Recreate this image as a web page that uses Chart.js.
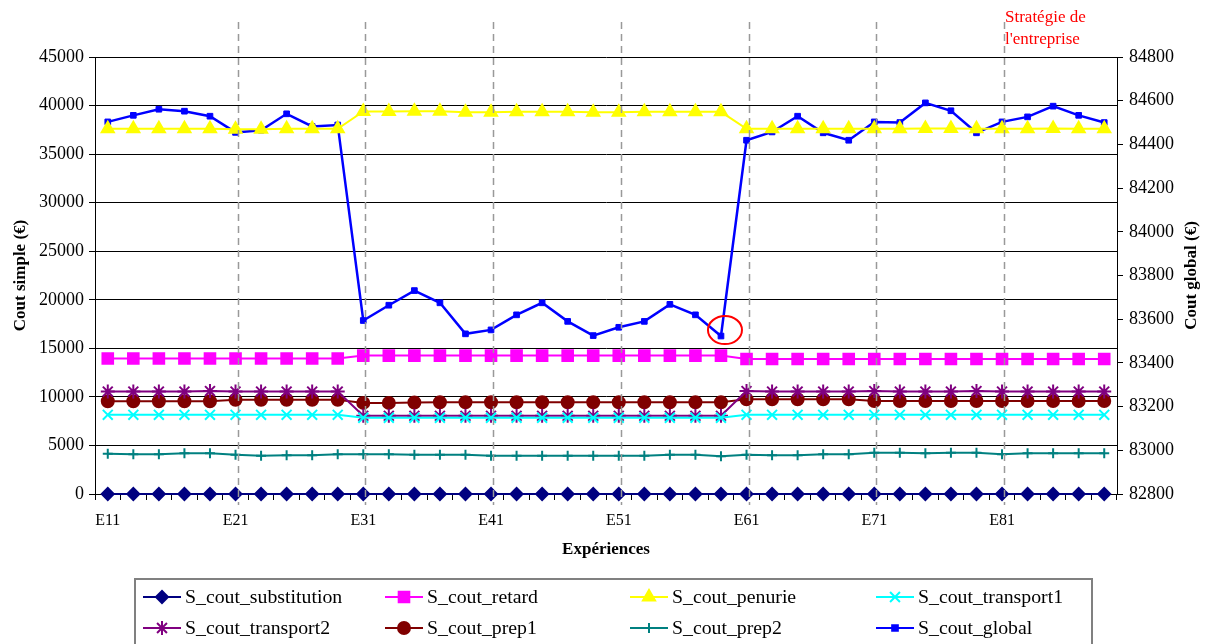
<!DOCTYPE html>
<html>
<head>
<meta charset="utf-8">
<script src="https://cdn.jsdelivr.net/npm/chart.js@4"></script>
<style>
  body { margin: 0; background: #fff; }
  canvas { display: block; }
</style>
</head>
<body>
<canvas id="chart" width="1205" height="644"></canvas>
<script>
const categories = [
  "E11","E12","E13","E14","E15","E21","E22","E23","E24","E25",
  "E31","E32","E33","E34","E35","E41","E42","E43","E44","E45",
  "E51","E52","E53","E54","E55","E61","E62","E63","E64","E65",
  "E71","E72","E73","E74","E75","E81","E82","E83","E84","E85"
];

const sSubstitution = [0,0,0,0,0,0,0,0,0,0, 0,0,0,0,0,0,0,0,0,0, 0,0,0,0,0,0,0,0,0,0, 0,0,0,0,0,0,0,0,0,0];
const sRetard = [13950,13950,13950,13950,13950,13950,13950,13950,13950,13950,
  14250,14250,14250,14250,14250,14250,14250,14250,14250,14250,
  14250,14250,14250,14250,14250,13900,13900,13900,13900,13900,
  13900,13900,13900,13900,13900,13900,13900,13900,13900,13900];
const sPenurie = [37600,37600,37600,37600,37600,37550,37550,37600,37600,37600,
  39400,39400,39420,39420,39300,39300,39350,39350,39350,39300,
  39300,39350,39350,39350,39350,37600,37600,37600,37600,37600,
  37600,37600,37650,37650,37600,37600,37600,37650,37600,37600];
const sTransport1 = [8150,8150,8150,8150,8150,8150,8150,8150,8150,8150,
  7850,7850,7850,7850,7850,7850,7850,7850,7850,7850,
  7850,7850,7850,7850,7850,8150,8150,8150,8150,8150,
  8150,8150,8150,8150,8150,8150,8150,8150,8150,8150];
const sTransport2 = [10550,10550,10550,10550,10600,10550,10550,10550,10550,10550,
  8050,8050,8050,8050,8050,8050,8050,8050,8050,8050,
  8050,8050,8050,8050,8050,10600,10550,10550,10550,10550,
  10600,10550,10550,10550,10600,10550,10550,10550,10550,10550];
const sPrep1 = [9550,9550,9550,9550,9550,9700,9700,9700,9700,9700,
  9380,9380,9420,9450,9450,9450,9450,9450,9450,9450,
  9450,9450,9450,9450,9450,9750,9750,9750,9750,9750,
  9580,9580,9580,9580,9580,9580,9580,9580,9580,9580];
const sPrep2 = [4150,4100,4100,4200,4200,4050,3950,4000,4000,4100,
  4100,4100,4050,4050,4050,3950,3950,3950,3950,3950,
  3950,3950,4050,4050,3900,4050,4000,4000,4100,4100,
  4250,4250,4200,4250,4250,4100,4200,4200,4200,4200];
const sGlobal = [84503,84533,84561,84552,84529,84455,84465,84540,84482,84489,
  83594,83664,83731,83675,83533,83551,83620,83675,83590,83525,
  83563,83590,83668,83620,83523,84419,84457,84529,84453,84419,
  84503,84500,84590,84554,84453,84503,84526,84575,84533,84500];

const leftTicks = { min: 0, max: 45000, step: 5000 };
const rightTicks = { min: 82800, max: 84800, step: 200 };

const groupStarts = [5, 10, 15, 20, 25, 30, 35];
const circledPoint = 24;

const serif = "'Liberation Serif', 'Times New Roman', serif";

function line(label, data, color, style, radius, axis) {
  return {
    label: label,
    data: data,
    yAxisID: axis || "y",
    borderColor: color,
    backgroundColor: color,
    pointBackgroundColor: color,
    pointBorderColor: color,
    pointStyle: style,
    pointRadius: radius,
    pointBorderWidth: 2,
    borderWidth: 2,
    tension: 0,
    clip: false
  };
}

const datasets = [
  line("S_cout_substitution", sSubstitution, "#000080", "rectRot", 6),
  line("S_cout_retard", sRetard, "#ff00ff", "rect", 7.5),
  line("S_cout_penurie", sPenurie, "#ffff00", "triangle", 7),
  line("S_cout_transport1", sTransport1, "#00ffff", "crossRot", 7),
  line("S_cout_transport2", sTransport2, "#800080", "star", 7),
  line("S_cout_prep1", sPrep1, "#800000", "circle", 6),
  line("S_cout_prep2", sPrep2, "#008080", "cross", 5),
  line("S_cout_global", sGlobal, "#0000ff", "rect", 4, "y1")
];
datasets[7].borderWidth = 2.5;
datasets[7].pointBorderWidth = 1;

// Annotationen, Achsentitel und Legende
const extras = {
  id: "extras",
  afterDatasetsDraw(chart) {
    const ctx = chart.ctx;
    const x = chart.scales.x;

    ctx.save();
    ctx.strokeStyle = "#999999";
    ctx.lineWidth = 1.5;
    ctx.setLineDash([7, 5]);
    groupStarts.forEach(i => {
      const px = Math.round(x.getPixelForValue(i)) + 2.5;
      ctx.beginPath();
      ctx.moveTo(px, 22);
      ctx.lineTo(px, 505);
      ctx.stroke();
    });
    ctx.restore();

    // roter Kreis
    const cx = x.getPixelForValue(circledPoint);
    const cy = chart.scales.y1.getPixelForValue(sGlobal[circledPoint]);
    ctx.save();
    ctx.strokeStyle = "#ff0000";
    ctx.lineWidth = 2;
    ctx.beginPath();
    ctx.ellipse(cx + 4, cy - 6, 17, 14, 0, 0, Math.PI * 2);
    ctx.stroke();
    ctx.restore();
  },
  afterDraw(chart) {
    const ctx = chart.ctx;
    const area = chart.chartArea;
    const midY = (area.top + area.bottom) / 2;

    ctx.save();
    ctx.fillStyle = "#000";
    ctx.font = "bold 17px " + serif;
    ctx.textAlign = "center";
    ctx.textBaseline = "middle";

    ctx.save();
    ctx.translate(21, midY);
    ctx.rotate(-Math.PI / 2);
    ctx.fillText("Cout simple (€)", 0, 0);
    ctx.restore();

    ctx.save();
    ctx.translate(1192, midY);
    ctx.rotate(-Math.PI / 2);
    ctx.fillText("Cout global (€)", 0, 0);
    ctx.restore();

    ctx.fillText("Expériences", (area.left + area.right) / 2, 550);

    // Strategie-Text
    ctx.fillStyle = "#ff0000";
    ctx.font = "17px " + serif;
    ctx.textAlign = "left";
    ctx.fillText("Stratégie de", 1005, 18);
    ctx.fillText("l'entreprise", 1005, 40);

    // Legende
    ctx.strokeStyle = "#808080";
    ctx.lineWidth = 2;
    ctx.strokeRect(135, 579, 957, 70);

    const colX = [143, 385, 630, 876];
    const rowY = [597, 628];
    ctx.font = "19.8px " + serif;
    chart.data.datasets.forEach((ds, i) => {
      const lx = colX[i % 4];
      const ly = rowY[Math.floor(i / 4)];
      ctx.strokeStyle = ds.borderColor;
      ctx.lineWidth = 2;
      ctx.beginPath();
      ctx.moveTo(lx, ly);
      ctx.lineTo(lx + 38, ly);
      ctx.stroke();
      ctx.fillStyle = ds.pointBackgroundColor;
      Chart.helpers.drawPoint(ctx, {
        pointStyle: ds.pointStyle,
        radius: ds.pointRadius,
        borderWidth: ds.pointBorderWidth,
        rotation: 0
      }, lx + 19, ly);
      ctx.fillStyle = "#000";
      ctx.fillText(ds.label, lx + 42, ly + 1);
    });
    ctx.restore();
  }
};

new Chart(document.getElementById("chart"), {
  type: "line",
  data: { labels: categories, datasets: datasets },
  plugins: [extras],
  options: {
    responsive: false,
    animation: false,
    layout: { padding: { top: 57, left: 0, right: 0, bottom: 0 } },
    plugins: {
      legend: { display: false },
      tooltip: { enabled: false }
    },
    scales: {
      x: {
        offset: true,
        afterFit: s => { s.height = 150; },
        grid: { offset: true, drawOnChartArea: false, color: "#000", tickLength: 6 },
        border: { display: true, color: "#000", width: 1 },
        ticks: {
          autoSkip: false,
          maxRotation: 0,
          padding: 11,
          color: "#000",
          font: { family: serif, size: 16 },
          callback: (v, i) => (i % 5 === 0 ? categories[i] : "")
        }
      },
      y: {
        position: "left",
        min: leftTicks.min,
        max: leftTicks.max,
        afterFit: s => { s.width = 95; },
        grid: { color: "#000", tickLength: 6 },
        border: { display: true, color: "#000", width: 1 },
        ticks: {
          stepSize: leftTicks.step,
          padding: 5,
          color: "#000",
          font: { family: serif, size: 18 },
          callback: v => String(v)
        }
      },
      y1: {
        position: "right",
        min: rightTicks.min,
        max: rightTicks.max,
        afterFit: s => { s.width = 88; },
        grid: { drawOnChartArea: false, color: "#000", tickLength: 6 },
        border: { display: true, color: "#000", width: 1 },
        ticks: {
          stepSize: rightTicks.step,
          padding: 6,
          color: "#000",
          font: { family: serif, size: 18 },
          callback: v => String(v)
        }
      }
    }
  }
});
</script>
</body>
</html>
